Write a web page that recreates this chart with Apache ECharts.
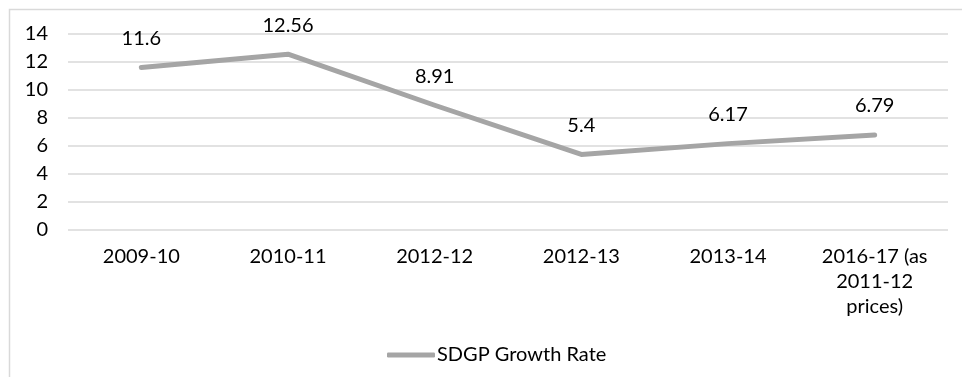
<!DOCTYPE html>
<html>
<head>
<meta charset="utf-8">
<script src="https://cdn.jsdelivr.net/npm/echarts@6/dist/echarts.min.js"></script>
<style>
  html, body { margin: 0; padding: 0; background: #fff; }
  #chart { width: 962px; height: 377px; }
</style>
</head>
<body>
<div id="chart"></div>
<script>
// Financial years shown on the category axis
const years = ['2009-10', '2010-11', '2012-12', '2012-13', '2013-14', '2016-17 (as\n2011-12\nprices)'];
// State domestic product growth rate, per cent
const growthRate = [11.6, 12.56, 8.91, 5.4, 6.17, 6.79];
const seriesName = 'SDGP Growth Rate';

const FONT = 'Lato';
const chart = echarts.init(document.getElementById('chart'), null, { renderer: 'canvas' });

chart.setOption({
  animation: false,
  backgroundColor: '#ffffff',
  textStyle: { fontFamily: FONT },
  graphic: [{
    type: 'rect',
    shape: { x: 9.5, y: 9.5, width: 1000, height: 400 },
    style: { fill: 'none', stroke: '#d9d9d9', lineWidth: 1.5 },
    silent: true,
    z: -1
  }],
  grid: { left: 68, right: 14, top: 34, bottom: 147 },
  legend: {
    data: [{ name: seriesName, itemStyle: { color: '#a5a5a5', opacity: 1, borderWidth: 0 } }],
    left: 382,
    top: 340,
    icon: 'roundRect',
    itemWidth: 48,
    itemHeight: 5,
    itemGap: 0,
    textStyle: { fontFamily: FONT, fontSize: 20, color: '#000', padding: [0, 0, 0, -3] }
  },
  xAxis: {
    type: 'category',
    data: years,
    boundaryGap: true,
    axisLine: { show: false },
    axisTick: { show: false },
    axisLabel: {
      fontFamily: FONT, fontSize: 20, color: '#000', margin: 14,
      lineHeight: 25, interval: 0, align: 'center'
    }
  },
  yAxis: {
    type: 'value',
    min: 0,
    max: 14,
    interval: 2,
    axisLine: { show: false },
    axisTick: { show: false },
    splitLine: { lineStyle: { color: '#d9d9d9', width: 1.5 } },
    axisLabel: { fontFamily: FONT, fontSize: 20, color: '#000', margin: 20 }
  },
  series: [{
    name: seriesName,
    type: 'line',
    data: growthRate,
    symbol: 'circle',
    symbolSize: 2,
    showSymbol: true,
    itemStyle: { color: 'rgba(165,165,165,0)', borderWidth: 0 },
    lineStyle: { color: '#a5a5a5', width: 5, cap: 'round', join: 'round' },
    label: {
      show: true,
      position: 'top',
      distance: 18,
      fontFamily: FONT,
      fontSize: 20,
      color: '#000'
    }
  }]
});
</script>
</body>
</html>
